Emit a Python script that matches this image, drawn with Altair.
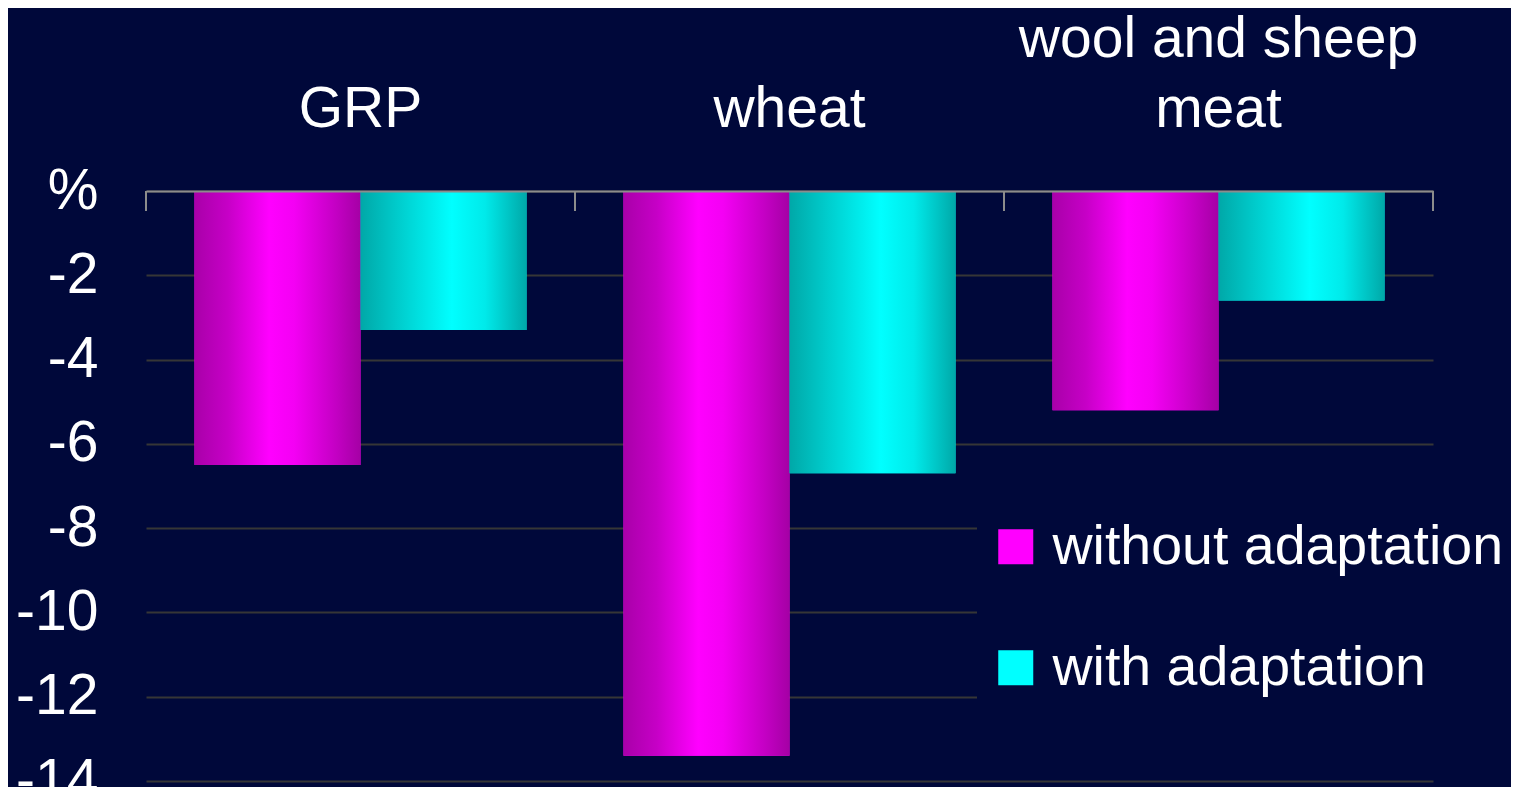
import altair as alt
import pandas as pd

categories = ["GRP", "wheat", "wool and sheep\nmeat"]
series = ["without adaptation", "with adaptation"]
without_adaptation = [-6.5, -13.4, -5.2]
with_adaptation = [-3.3, -6.7, -2.6]
y_ticks = [0, -2, -4, -6, -8, -10, -12, -14]

rows = []
for c, a, b in zip(categories, without_adaptation, with_adaptation):
    rows.append({"category": c, "series": series[0], "value": a})
    rows.append({"category": c, "series": series[1], "value": b})
df = pd.DataFrame(rows)
cat_df = pd.DataFrame({"category": categories})

FONT = "Liberation Sans"
BG = "#00083a"
GRAY = "#8c8c8c"

magenta_grad = alt.LinearGradient(
    gradient="linear", x1=0, x2=1, y1=0, y2=0,
    stops=[
        alt.GradientStop(color="#a900a9", offset=0),
        alt.GradientStop(color="#c600c6", offset=0.2),
        alt.GradientStop(color="#ff00ff", offset=0.45),
        alt.GradientStop(color="#f400f4", offset=0.6),
        alt.GradientStop(color="#c400c4", offset=0.85),
        alt.GradientStop(color="#a500a5", offset=1),
    ],
)
cyan_grad = alt.LinearGradient(
    gradient="linear", x1=0, x2=1, y1=0, y2=0,
    stops=[
        alt.GradientStop(color="#00a8a8", offset=0),
        alt.GradientStop(color="#00d0d0", offset=0.25),
        alt.GradientStop(color="#00ffff", offset=0.55),
        alt.GradientStop(color="#00eaea", offset=0.75),
        alt.GradientStop(color="#00a8a8", offset=1),
    ],
)

x_axis = alt.Axis(
    orient="top", title=None, labelAngle=0, labelFontSize=57, labelColor="white",
    labelFont=FONT, labelBaseline="bottom", labelLineHeight=70, labelPadding=123,
    labelLimit=1000, ticks=False, domainColor=GRAY, domainWidth=2, grid=False,
    zindex=1,
    labelExpr=(
        "length(split(datum.label, '\\n')) > 1 ? split(datum.label, '\\n')"
        " : ['', datum.label]"
    ),
)
x_scale = alt.Scale(paddingInner=0, paddingOuter=0)

x_enc = alt.X("category:N", sort=categories, scale=x_scale, axis=x_axis)
xo_enc = alt.XOffset("series:N", sort=series,
                     scale=alt.Scale(paddingInner=0, paddingOuter=0.292))
y_enc = alt.Y(
    "value:Q",
    scale=alt.Scale(domain=[-14, 0], nice=False),
    axis=alt.Axis(
        title=None, values=y_ticks, labelFontSize=57, labelColor="white",
        labelFont=FONT, ticks=False, domain=False, labelPadding=48,
        gridColor="#363636", gridWidth=2,
        labelExpr="datum.value == 0 ? '%' : '-' + abs(datum.value)",
    ),
)

base = alt.Chart(df).mark_bar().encode(
    x=x_enc,
    xOffset=xo_enc,
    y=y_enc,
    color=alt.Color(
        "series:N", sort=series,
        scale=alt.Scale(domain=series, range=["#ff00ff", "#00ffff"]),
        legend=alt.Legend(
            title=None, orient="none", legendX=831, legendY=317,
            labelFontSize=55.5, labelFont=FONT, labelColor="white",
            symbolType="square", symbolSize=1225, symbolStrokeWidth=0,
            rowPadding=64, labelOffset=9, padding=11, fillColor=BG,
            labelLimit=1000,
        ),
    ),
)

over_mag = alt.Chart(df).transform_filter(
    alt.datum.series == series[0]
).mark_bar(color=magenta_grad).encode(x=x_enc, xOffset=xo_enc, y=y_enc)

over_cyan = alt.Chart(df).transform_filter(
    alt.datum.series == series[1]
).mark_bar(color=cyan_grad).encode(x=x_enc, xOffset=xo_enc, y=y_enc)

ticks_start = alt.Chart(cat_df).mark_rule(color=GRAY, strokeWidth=2).encode(
    x=alt.X("category:N", sort=categories, bandPosition=0),
    y=alt.value(0), y2=alt.value(20),
)
ticks_end = alt.Chart(cat_df).transform_filter(
    alt.datum.category == categories[-1]
).mark_rule(color=GRAY, strokeWidth=2).encode(
    x=alt.X("category:N", sort=categories, bandPosition=1),
    y=alt.value(0), y2=alt.value(20),
)

chart = alt.layer(base, over_mag, over_cyan, ticks_start, ticks_end).properties(
    width=1287,
    height=590,
    autosize=alt.AutoSizeParams(type="none"),
    padding={"left": 138, "top": 183, "right": 78, "bottom": 6},
    background=BG,
).configure_view(stroke=None)

chart.save("out.html", embed_options={"renderer": "svg", "actions": False})
